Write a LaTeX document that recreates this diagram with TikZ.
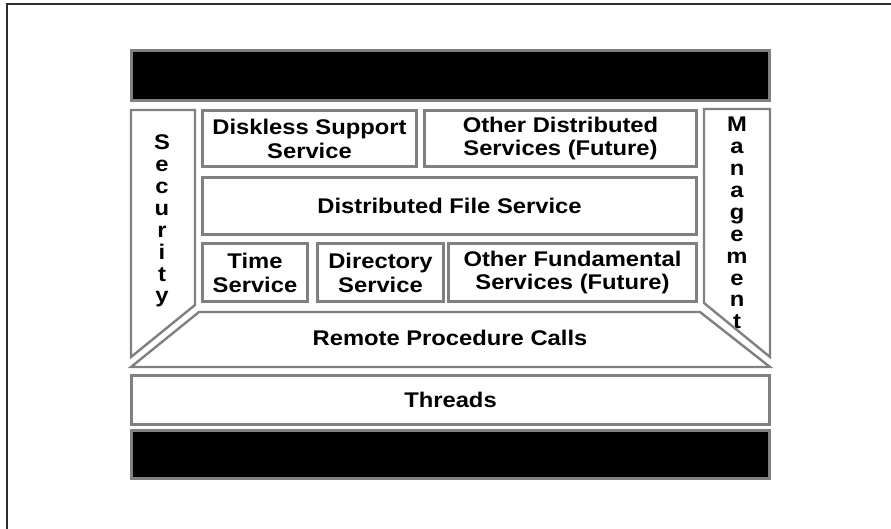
\documentclass[tikz,border=0pt]{standalone}
\usepackage{fontspec}
\newfontfamily\lblfont[FakeStretch=1.12]{Liberation Sans Bold}
\definecolor{edgegray}{RGB}{128,128,128}
\definecolor{framegray}{RGB}{45,45,45}

\tikzset{
  labeltext/.style={font=\lblfont\fontsize{21.3}{24}\selectfont, align=center, inner sep=0pt},
  layer/.style={labeltext, draw=edgegray, line width=2.4bp, fill=white},
  bar/.style={draw=edgegray, line width=2.4bp, fill=black, inner sep=0pt},
  sideedge/.style={draw=edgegray, line width=2.4bp, fill=white, line join=miter},
  stacktext/.style={font=\lblfont\fontsize{21.3}{22}\selectfont, align=center, inner sep=0pt},
}

\begin{document}
\begin{tikzpicture}[x=1bp, y=-1bp]
  \useasboundingbox (0,0) rectangle (891,529);

  % page frame (top and left edges)
  \coordinate (frameBL) at (7,529);
  \coordinate (frameTL) at (7,4);
  \coordinate (frameTR) at (891,4);
  \draw[framegray, line width=2.5bp] (frameBL) -- (frameTL) -- (frameTR);

  % black bars above and below the stack
  \node[bar, minimum width=638bp, minimum height=50bp] (topbar) at (450.5,75.5) {};
  \node[bar, minimum width=638bp, minimum height=48bp] (bottombar) at (450.5,454.5) {};

  % side columns
  \path[sideedge] (131,110) -- (195,110) -- (195,305) -- (131,357) -- cycle;
  \node[stacktext] (security) at (162,221) {S\\e\\c\\u\\r\\i\\t\\y};
  \path[sideedge] (704,109) -- (770,109) -- (770,357) -- (704,303) -- cycle;
  \node[stacktext] (management) at (737,223) {M\\a\\n\\a\\g\\e\\m\\e\\n\\t};

  % remote procedure calls layer
  \path[sideedge] (199,312) -- (700,312) -- (770,367) -- (131,367) -- cycle;
  \node[labeltext] (rpc) at (450,338) {Remote Procedure Calls};

  % distributed services
  \node[layer, minimum width=214bp, minimum height=56bp] (diskless) at (309.5,138.5) {Diskless Support\\Service};
  \node[layer, minimum width=272bp, minimum height=56bp] (otherdist) at (560.5,138.5) {Other Distributed\\Services (Future)};
  \node[layer, minimum width=494bp, minimum height=57bp] (dfs) at (449.5,206) {Distributed File Service};

  % fundamental services
  \node[layer, minimum width=105bp, minimum height=58bp] (time) at (255,272.5) {Time\\Service};
  \node[layer, minimum width=126bp, minimum height=58bp] (directory) at (380.5,272.5) {Directory\\Service};
  \node[layer, minimum width=248bp, minimum height=58bp] (otherfund) at (572.5,272.5) {Other Fundamental\\Services (Future)};

  % threads layer
  \node[layer, minimum width=638bp, minimum height=49bp] (threads) at (450.5,400) {Threads};
\end{tikzpicture}
\end{document}
